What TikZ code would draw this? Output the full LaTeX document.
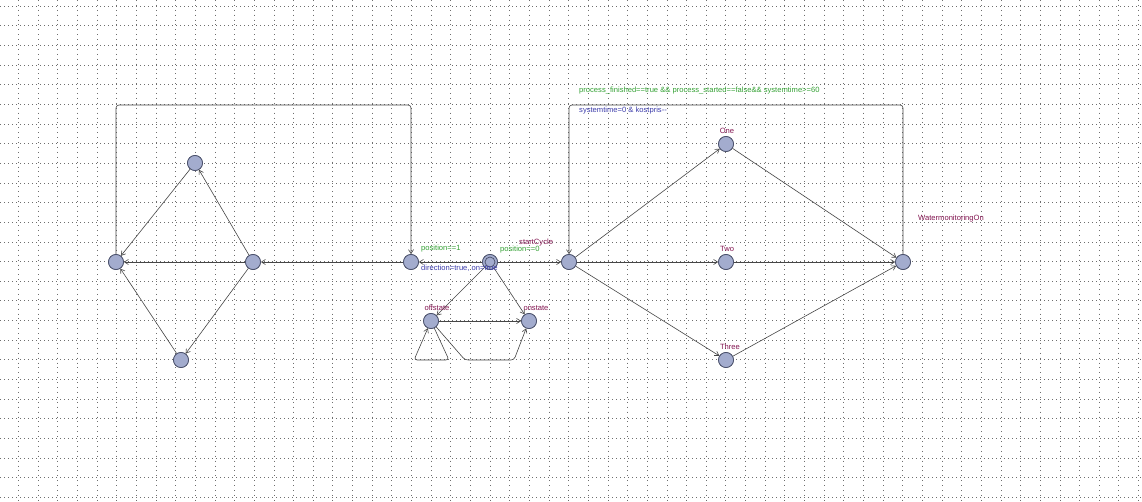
\documentclass[tikz,border=0pt]{standalone}
\usepackage{fontspec}
\setmainfont{Liberation Sans}
\usetikzlibrary{arrows.meta}

\definecolor{gridcol}{RGB}{110,110,110}
\definecolor{locfill}{RGB}{163,172,206}
\definecolor{locborder}{RGB}{72,78,104}
\definecolor{edgecol}{RGB}{70,70,70}
\definecolor{guardcol}{RGB}{50,160,50}
\definecolor{updcol}{RGB}{60,60,170}
\definecolor{namecol}{RGB}{130,20,80}

\tikzset{
  loc/.style={circle, draw=locborder, fill=locfill, minimum size=15pt, inner sep=0pt, line width=0.7pt},
  trans/.style={draw=edgecol, line width=0.6pt, rounded corners=3pt,
    -{Straight Barb[length=4pt,width=5pt,line width=0.6pt]}},
  lbl/.style={inner sep=0pt, font=\fontsize{7.6}{9}\selectfont},
  guard/.style={lbl, text=guardcol},
  upd/.style={lbl, text=updcol},
  locname/.style={lbl, text=namecol},
  hgrid/.style={draw=gridcol, line width=0.5pt, dash pattern=on 0.6pt off 3.4pt},
  vgrid/.style={draw=gridcol, line width=0.5pt, dash pattern=on 0.6pt off 4.3pt}
}

\begin{document}
\begin{tikzpicture}[x=1pt,y=-1pt]
  \useasboundingbox (0,0) rectangle (1142,502);
  \fill[white] (0,0) rectangle (1142,502);

  % dotted background grid
  \foreach \k in {0,...,57} {
    \pgfmathsetmacro{\gx}{18.3+19.65*\k}
    \draw[vgrid] (\gx,0) -- (\gx,502);
  }
  \foreach \k in {0,...,25} {
    \pgfmathsetmacro{\gy}{6+19.65*\k}
    \draw[hgrid] (0,\gy) -- (1142,\gy);
  }

  % locations
  \node[loc] (L)  at (116,262) {};
  \node[loc] (DT) at (195,163) {};
  \node[loc] (DM) at (253,262) {};
  \node[loc] (DB) at (181,360) {};
  \node[loc] (P)  at (411,262) {};
  \node[loc] (I)  at (490,262) {};
  \node[loc] (S)  at (569,262) {};
  \node[loc] (One)   at (726,144) {};
  \node[loc] (Two)   at (726,262) {};
  \node[loc] (Three) at (726,360) {};
  \node[loc] (W)  at (903,262) {};
  \node[loc] (Off) at (431,321) {};
  \node[loc] (On)  at (529,321) {};

  % nails
  \coordinate (lc1) at (116,105);
  \coordinate (lc2) at (411,105);
  \coordinate (rc1) at (903,105);
  \coordinate (rc2) at (569,105);
  \coordinate (sl1) at (449,360);
  \coordinate (sl2) at (414,360);
  \coordinate (lp1) at (465,360);
  \coordinate (lp2) at (514,360);

  % transitions
  \draw[trans] (L) -- (lc1) -- (lc2) -- (P);
  \draw[trans] (P) -- (DM);
  \draw[trans] (DM) -- (L);
  \draw[trans] (DM) -- (DT);
  \draw[trans] (DT) -- (L);
  \draw[trans] (DM) -- (DB);
  \draw[trans] (DB) -- (L);
  \draw[trans] (I) -- (P);
  \draw[trans] (I) -- (S);
  \draw[trans] (I) -- (Off);
  \draw[trans] (I) -- (On);
  \draw[trans] (Off) -- (On);
  \draw[trans] (Off) -- (sl1) -- (sl2) -- (Off);
  \draw[trans] (Off) -- (lp1) -- (lp2) -- (On);
  \draw[trans] (S) -- (One);
  \draw[trans] (S) -- (Two);
  \draw[trans] (S) -- (Three);
  \draw[trans] (One) -- (W);
  \draw[trans] (Two) -- (W);
  \draw[trans] (Three) -- (W);
  \draw[trans] (W) -- (rc1) -- (rc2) -- (S);

  % locations again, above the transitions
  \foreach \n in {L,DT,DM,DB,P,I,S,One,Two,Three,W,Off,On}
    \node[loc] at (\n) {};
  % initial location: inner ring
  \draw[locborder, line width=0.7pt] (I.center) circle (5pt);

  % labels
  \node[guard, anchor=west] (g1) at (579,91) {process\_finished==true \&\& process\_started==false\&\& systemtime>=60};
  \node[upd, anchor=west] (u1) at (579,111) {systemtime=0 \& kostpris-{}-};
  \node[guard, anchor=west] (g2) at (421,249) {position==1};
  \node[upd, anchor=west] (u2) at (421,268) {direction=true, on=true};
  \node[guard, anchor=west] (g3) at (500,249.5) {position==0};
  \node[locname, anchor=west] (nS) at (519,242.5) {startCycle};
  \node[locname] (nOne) at (727,131) {One};
  \node[locname] (nTwo) at (727,249) {Two};
  \node[locname] (nThree) at (730,347) {Three};
  \node[locname, anchor=west] (nW) at (918,219) {WatermonitoringOn};
  \node[locname] (nOff) at (437,308) {offstate};
  \node[locname] (nOn) at (536,308) {onstate};
\end{tikzpicture}
\end{document}
